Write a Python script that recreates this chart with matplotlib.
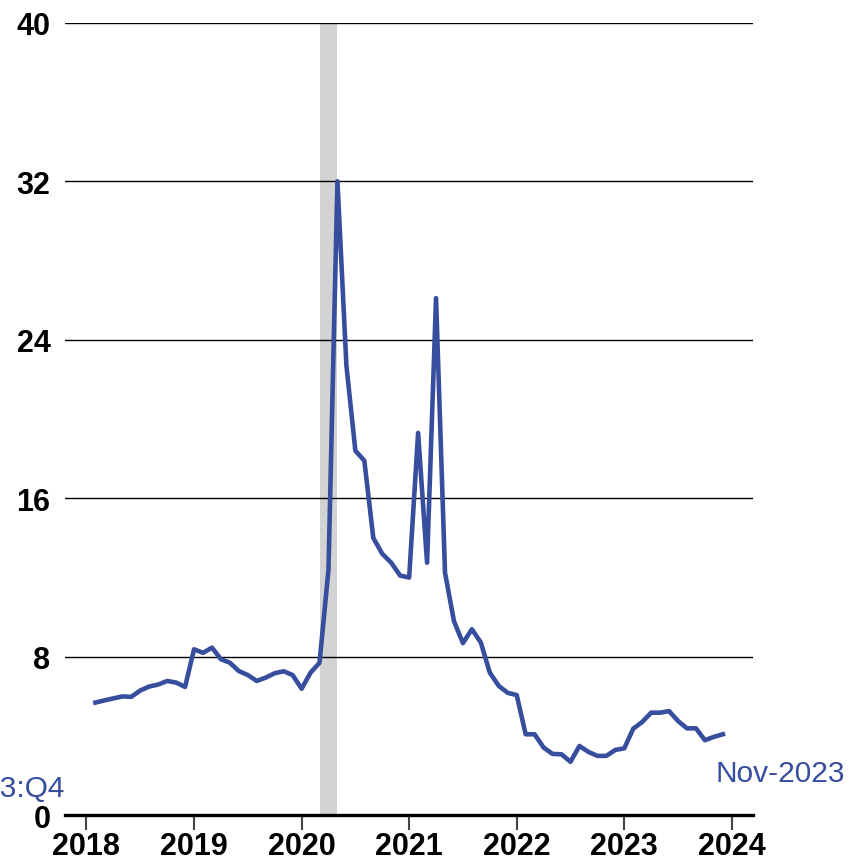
import numpy as np
import matplotlib
matplotlib.use('Agg')
import matplotlib.pyplot as plt

plt.rcParams['font.family'] = 'Liberation Sans'

# monthly values, Jan 2018 .. Nov 2023
years = [2018] * 12 + [2019] * 12 + [2020] * 12 + [2021] * 12 + [2022] * 12 + [2023] * 11
months = list(range(1, 13)) * 5 + list(range(1, 12))
rate = [5.69, 5.8, 5.9, 6.0, 5.98, 6.3, 6.5, 6.6, 6.78, 6.7, 6.48, 8.38,
        8.2, 8.46, 7.88, 7.7, 7.28, 7.08, 6.78, 6.95, 7.17, 7.27, 7.08, 6.39,
        7.2, 7.7, 12.4, 32.0, 22.7, 18.4, 17.9, 14.0, 13.2, 12.75, 12.1, 12.0,
        19.3, 12.75, 26.1, 12.25, 9.8, 8.69, 9.39, 8.72, 7.2, 6.53, 6.18, 6.07,
        4.09, 4.09, 3.42, 3.1, 3.08, 2.7, 3.5, 3.2, 3.0, 3.0, 3.3, 3.38,
        4.37, 4.71, 5.18, 5.18, 5.26, 4.76, 4.39, 4.39, 3.79, 3.96, 4.09]

# recession (end of Feb 2020 to end of Apr 2020)
rec_start = 2020 + 2 / 12
rec_end = 2020 + 4 / 12

year_ticks = list(range(2018, 2025))
y_ticks = [0, 8, 16, 24, 32, 40]

blue = '#374d9e'

# end-of-month position in fractional years
x = np.array(years) + np.array(months) / 12

fig = plt.figure(figsize=(8.64, 8.62), dpi=100)
ax = fig.add_axes([0.0752, 0.053, 0.7967, 0.9194])

ax.axvspan(rec_start, rec_end, color='#d3d3d3', lw=0, zorder=1)
for yv in y_ticks[1:]:
    ax.axhline(yv, color='black', lw=1.0, zorder=2)
ax.plot(x, rate, color=blue, lw=3.3, zorder=3, solid_joinstyle='round')

ax.set_xlim(2017.8, 2024.2)
ax.set_ylim(0, 40)
ax.set_xticks(year_ticks)
ax.set_xticklabels([str(y) for y in year_ticks])
ax.set_yticks(y_ticks)
ax.set_yticklabels([str(v) for v in y_ticks])

for s in ['top', 'right', 'left']:
    ax.spines[s].set_visible(False)
ax.spines['bottom'].set_linewidth(2.4)
ax.spines['bottom'].set_color('black')
ax.spines['bottom'].set_zorder(4)

ax.tick_params(axis='x', length=10.5, width=1.5, color='#444444', pad=1,
               labelsize=22)
ax.tick_params(axis='y', length=0, pad=10.5, labelsize=22)
for lab in ax.get_xticklabels() + ax.get_yticklabels():
    lab.set_fontweight('bold')

# note partly outside the figure, as in the original
ax.text(0, 1.0, '2023:Q4', transform=ax.get_yaxis_transform(),
        ha='right', va='baseline', fontsize=21.5, color=blue, clip_on=False)
ax.annotate('Nov-2023', xy=(x[-1], rate[-1]), xytext=(-5.3, -33.6),
            textcoords='offset points', ha='left', va='baseline',
            fontsize=21.5, color=blue, annotation_clip=False)

fig.savefig('out.png', dpi=100)
